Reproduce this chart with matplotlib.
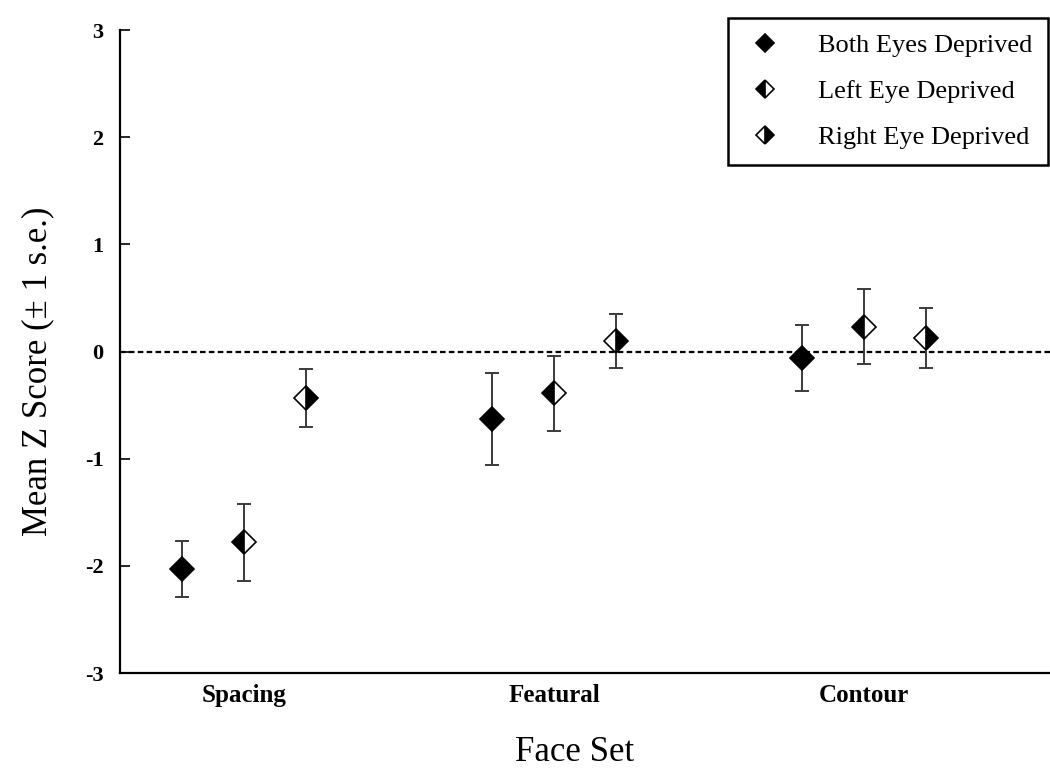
import matplotlib
matplotlib.use("Agg")
import matplotlib.pyplot as plt
import numpy as np

plt.rcParams['font.family'] = ['Liberation Serif', 'DejaVu Serif']

face_sets = ["Spacing", "Featural", "Contour"]
groups = ["Both Eyes Deprived", "Left Eye Deprived", "Right Eye Deprived"]
means = {
    "Both Eyes Deprived": [-2.03, -0.63, -0.06],
    "Left Eye Deprived": [-1.78, -0.39, 0.23],
    "Right Eye Deprived": [-0.43, 0.10, 0.13],
}
errors = {
    "Both Eyes Deprived": [0.26, 0.43, 0.31],
    "Left Eye Deprived": [0.36, 0.35, 0.35],
    "Right Eye Deprived": [0.27, 0.25, 0.28],
}
fills = {"Both Eyes Deprived": "full", "Left Eye Deprived": "left", "Right Eye Deprived": "right"}
offsets = {"Both Eyes Deprived": -0.2, "Left Eye Deprived": 0.0, "Right Eye Deprived": 0.2}

fig = plt.figure(figsize=(10.5, 7.69), dpi=100)
ax = fig.add_axes([0.1143, 0.1248, 0.8857, 0.836])

x = np.arange(len(face_sets))
ax.plot([-0.4, 2.6], [0, 0], color="black", lw=1.6, ls=(0, (2.5, 1.5)), zorder=1)

handles = []
for g in groups:
    xs = x + offsets[g]
    ax.errorbar(xs, means[g], yerr=errors[g], fmt="none", ecolor="#3a3a3a",
                elinewidth=1.4, capsize=5, capthick=1.4, zorder=2)
    h, = ax.plot(xs, means[g], ls="none", marker="D", markersize=12.5,
                 fillstyle=fills[g], markerfacecolor="black", markerfacecoloralt="white",
                 markeredgecolor="black", markeredgewidth=1.2, zorder=3, label=g)
    handles.append(h)

ax.set_xlim(-0.4, 2.6)
ax.set_ylim(-3, 3)
ax.set_yticks([-3, -2, -1, 0, 1, 2, 3])
ax.set_yticklabels(["-3", "-2", "-1", "0", "1", "2", "3"], fontsize=16, fontweight="bold")
ax.set_xticks(x)
ax.set_xticklabels(face_sets, fontsize=18, fontweight="bold")
ax.tick_params(axis="x", length=0, pad=8)
ax.tick_params(axis="y", length=7, width=1.2, direction="in", pad=12)
for s in ["top", "right"]:
    ax.spines[s].set_visible(False)
ax.spines["left"].set_linewidth(1.6)
ax.spines["bottom"].set_linewidth(1.6)

ax.set_ylabel("Mean Z Score (± 1 s.e.)", fontsize=25)
ax.yaxis.set_label_coords(-0.071, 0.47)
ax.set_xlabel("Face Set", fontsize=25)
ax.xaxis.set_label_coords(0.489, -0.098)

leg = ax.legend(handles=handles, loc="upper right",
                bbox_to_anchor=(1048 / 1050, 1 - 18 / 769), bbox_transform=fig.transFigure,
                fontsize=19, frameon=True, fancybox=False, edgecolor="black", framealpha=1,
                markerscale=0.7, handletextpad=1.2, borderpad=0.6, labelspacing=0.85,
                handlelength=1.6, borderaxespad=0)
leg.get_frame().set_linewidth(1.8)

fig.savefig("out.png", dpi=100)
